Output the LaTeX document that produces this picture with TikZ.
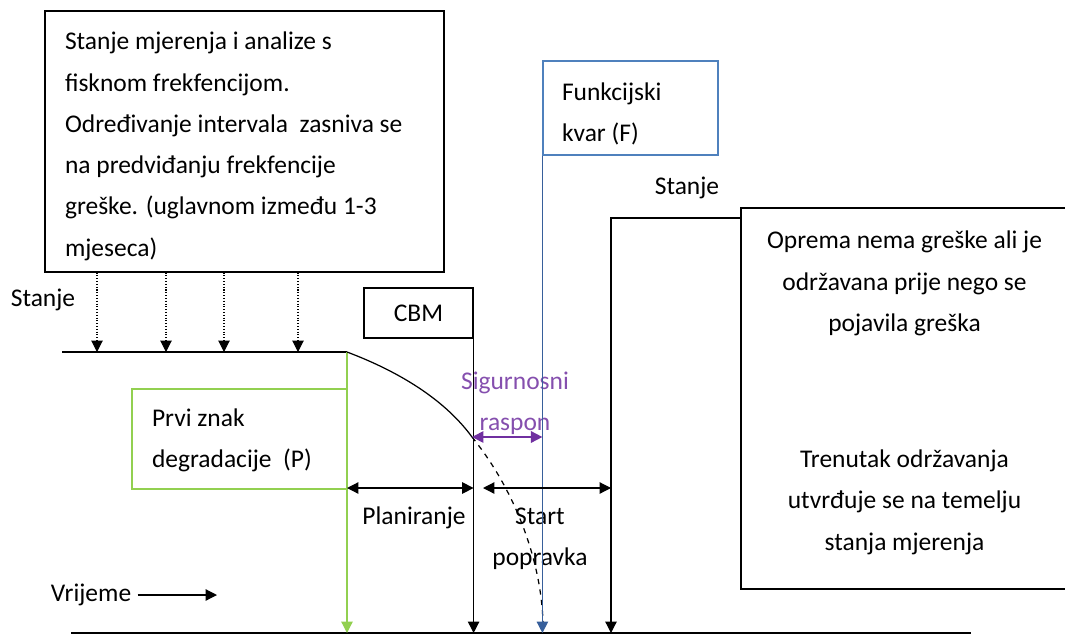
\documentclass[tikz,border=0pt]{standalone}
\usepackage{fontspec}
\setmainfont{Carlito}
\usetikzlibrary{arrows.meta, positioning}

\definecolor{failblue}{RGB}{79,129,189}
\definecolor{arrowblue}{RGB}{55,95,155}
\definecolor{signgreen}{RGB}{146,208,80}
\definecolor{safepurple}{RGB}{112,48,160}

\tikzset{
	box/.style={draw, inner sep=0pt},
	txt/.style={font=\fontsize{14.5}{23.5}\selectfont},
	boxtxt/.style={txt, inner sep=0pt, anchor=north west, align=left},
	tip/.style={-{Triangle[width=6.5pt,length=6.5pt]}},
	dtip/.style={{Triangle[width=6.5pt,length=6.5pt]}-{Triangle[width=6.5pt,length=6.5pt]}}
}

\begin{document}
\begin{tikzpicture}[x=0.02cm, y=-0.02cm, line width=0.7pt]
	\useasboundingbox (0,0) rectangle (1065,636);

	\node [box, minimum width=7.98cm, minimum height=5.22cm]							(meas) at (244.5,141.5)	{};
	\node [box, txt, minimum width=2.18cm, minimum height=1cm]							(cbm)  at (418.5,313)	{CBM};
	\node [box, draw=failblue, minimum width=3.5cm, minimum height=1.88cm]				(fail) at (630.5,108)	{};
	\node [box, draw=signgreen, minimum width=4.3cm, minimum height=2cm]				(sign) at (239.5,439)	{};
	\node [box, minimum width=6.54cm, minimum height=7.62cm]							(keep) at (904.5,398.5)	{};

	\node [boxtxt] (meastxt) at ([shift={(20,21)}]meas.north west)
		{Stanje mjerenja i analize s\\fisknom frekfencijom.\\Određivanje intervala\ \ zasniva se\\na predviđanju frekfencije\\greške. (uglavnom između 1-3\\mjeseca)};
	\node [boxtxt] (failtxt) at ([shift={(19,22)}]fail.north west)	{Funkcijski\\kvar (F)};
	\node [boxtxt] (signtxt) at ([shift={(20,20)}]sign.north west)	{Prvi znak\\degradacije\ \ (P)};
	\node [txt, inner sep=0pt, anchor=north, align=center] (keeptxt) at ([shift={(0,23)}]keep.north)
		{Oprema nema greške ali je\\održavana prije nego se\\pojavila greška\\[1.9cm]Trenutak održavanja\\utvrđuje se na temelju\\stanja mjerenja};

	\node [txt]														(cond)  at (43,300)		{Stanje};
	\node [txt]														(cond2) at (687,188)	{Stanje};
	\node [txt]														(time)  at (91,595)		{Vrijeme};
	\node [txt]														(plan)  at (414,518)	{Planiranje};
	\node [txt, align=center]										(start) at (540,539)	{Start\\popravka};
	\node [txt, align=center, text=safepurple!85]					(safe)  at (515,403)	{Sigurnosni\\raspon};

	\coordinate (t0)    at (71,633);
	\coordinate (t1)    at (971,633);
	\coordinate (c0)    at (62,352);
	\coordinate (p)     at (347,352);
	\coordinate (s)     at (611,218);
	\coordinate (tnext) at (217,595);
	\coordinate (f)     at (543,622);

	\draw (t0) -- (t1);
	\draw (c0) -- (p);
	\foreach \x in {97,166,224,298}
		\draw[tip, densely dotted, line width=0.6pt] (meas.south -| \x,0) -- (c0 -| \x,0);
	\draw[tip, signgreen] (p) -- (p |- t0);
	\draw (p) .. controls (400,372) and (445,400) .. (472,437) coordinate (m);
	\draw[dashed] (m) .. controls (515,490) and (541,560) .. (f);
	\draw[tip] (cbm.south east) -- (cbm.south east |- t0);
	\draw[tip, arrowblue, line width=0.8pt] (fail.south west) -- (fail.south west |- t0);
	\draw[tip] (keep.west |- s) -- (s) -- (s |- t0);
	\draw[dtip] (p |- 0,488) -- (cbm.south east |- 0,488);
	\draw[dtip] (483,488) -- (s |- 0,488);
	\draw[dtip, safepurple, line width=1pt] (m) -- (fail.south west |- m);
	\draw[tip] (time.east) -- (tnext);
\end{tikzpicture}
\end{document}
